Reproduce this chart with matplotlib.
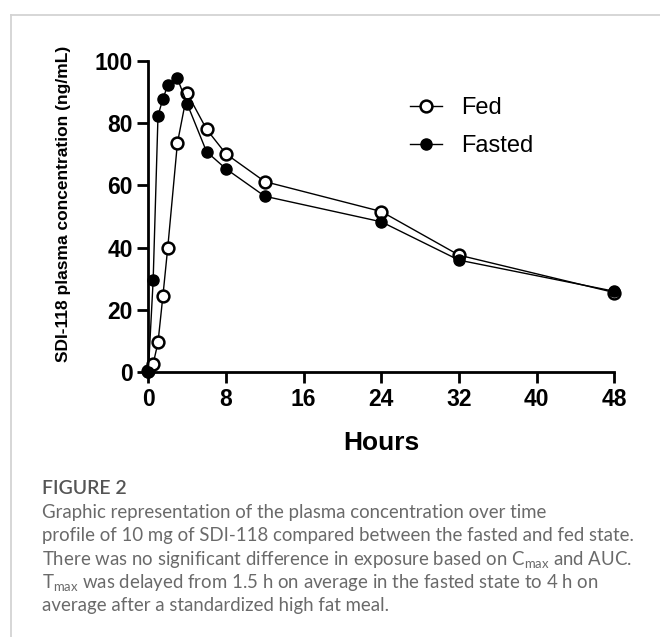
import matplotlib
matplotlib.use("Agg")
import matplotlib.pyplot as plt
from matplotlib.lines import Line2D

# ---- data ----
hours = [0, 0.5, 1, 1.5, 2, 3, 4, 6, 8, 12, 24, 32, 48]
fed = [0.3, 2.7, 9.6, 24.4, 39.9, 73.6, 89.6, 78.0, 70.1, 61.2, 51.6, 37.6, 25.6]
fasted = [0.0, 29.5, 82.4, 87.7, 92.1, 94.3, 86.2, 70.8, 65.3, 56.5, 48.3, 36.0, 26.0]
xticks = [0, 8, 16, 24, 32, 40, 48]
yticks = [0, 20, 40, 60, 80, 100]
series_names = ["Fed", "Fasted"]
ylabel = "SDI-118 plasma concentration (ng/mL)"
xlabel = "Hours"
caption_title = "FIGURE 2"
caption_lines = [
    "Graphic representation of the plasma concentration over time",
    "profile of 10 mg of SDI-118 compared between the fasted and fed state.",
    r"There was no significant difference in exposure based on C$_{\mathrm{max}}$ and AUC.",
    r"T$_{\mathrm{max}}$ was delayed from 1.5 h on average in the fasted state to 4 h on",
    "average after a standardized high fat meal.",
]

W, H = 660, 637
plt.rcParams['mathtext.fontset'] = 'custom'
plt.rcParams['mathtext.rm'] = 'Lato'
plt.rcParams['mathtext.it'] = 'Lato'

fig = plt.figure(figsize=(W / 100, H / 100), dpi=100)
fig.patch.set_facecolor("white")

# page border (top and left)
fig.add_artist(Line2D([11.3 / W, 1.0], [1 - 14.7 / H, 1 - 14.7 / H], transform=fig.transFigure,
                      color="#d3d3d3", lw=1.3))
fig.add_artist(Line2D([11.3 / W, 11.3 / W], [0.0, 1 - 14.7 / H], transform=fig.transFigure,
                      color="#d3d3d3", lw=1.3))

x0, x1 = 148.3, 614.3
y0, y1 = 372.3, 60.7
ax = fig.add_axes([x0 / W, 1 - y0 / H, (x1 - x0) / W, (y0 - y1) / H])
ax.set_xlim(0, 48)
ax.set_ylim(0, 100)

ax.plot(hours, fed, color="black", lw=1.0, marker="o", markersize=8.5,
        markerfacecolor="white", markeredgecolor="black", markeredgewidth=1.8,
        clip_on=False, zorder=3, label=series_names[0])
ax.plot(hours, fasted, color="black", lw=1.0, marker="o", markersize=8,
        markerfacecolor="black", markeredgecolor="black",
        clip_on=False, zorder=4, label=series_names[1])

for s in ["top", "right"]:
    ax.spines[s].set_visible(False)
for s in ["left", "bottom"]:
    ax.spines[s].set_linewidth(2.0)
ax.set_xticks(xticks)
ax.set_yticks(yticks)
ax.tick_params(axis="both", width=2.0, length=8, labelsize=16.5, pad=3)
for lab in ax.get_xticklabels() + ax.get_yticklabels():
    lab.set_fontweight("bold")
    lab.set_fontfamily("Liberation Sans")

fig.text(64 / W, 1 - 204 / H, ylabel, rotation=90, ha="center", va="center",
         fontsize=12.5, fontweight="bold", family="Liberation Sans")
fig.text(381 / W, 1 - 443 / H, xlabel, ha="center", va="center",
         fontsize=19, fontweight="bold", family="Liberation Sans")

leg = ax.legend(loc="upper left", bbox_to_anchor=(410 / W, 1 - 97 / H),
                bbox_transform=fig.transFigure, frameon=False, borderpad=0,
                borderaxespad=0, handlelength=1.375, handletextpad=0.8,
                labelspacing=0.67, prop={"family": "Liberation Sans", "size": 17})

fig.text(42 / W, 1 - 494 / H, caption_title, ha="left", va="baseline",
         fontsize=14, color="#555555", family="Lato", fontweight="semibold")
base = 518
for i, line in enumerate(caption_lines):
    fig.text(42 / W, 1 - (base + i * 23.3) / H, line, ha="left", va="baseline",
             fontsize=13.45, color="#6a6a6a", family="Lato")

fig.savefig("out.png", dpi=100, facecolor="white")
